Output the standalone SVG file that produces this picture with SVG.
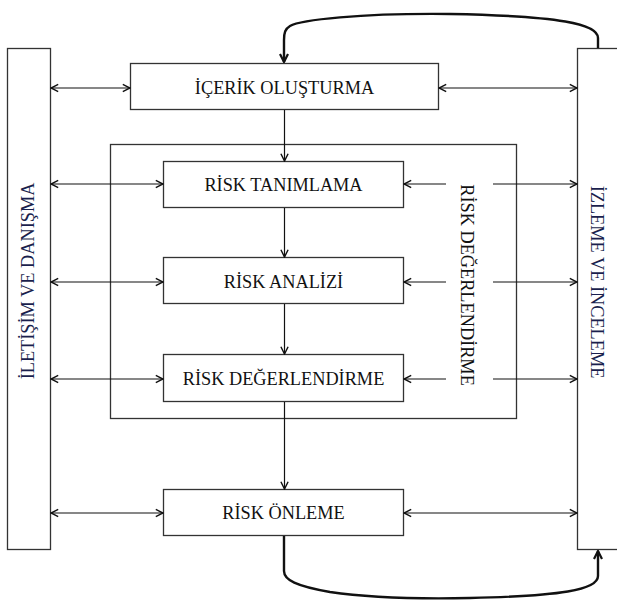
<svg xmlns="http://www.w3.org/2000/svg" width="617" height="603" viewBox="0 0 617 603">
<defs>
<marker id="ah" viewBox="0 0 10 10" refX="9" refY="5" markerWidth="9" markerHeight="10" markerUnits="userSpaceOnUse" orient="auto-start-reverse">
<path d="M1,1 L9,5 L1,9" fill="none" stroke="#111" stroke-width="1.6"/>
</marker>
<marker id="ahb" viewBox="0 0 10 10" refX="9" refY="5" markerWidth="10" markerHeight="11" markerUnits="userSpaceOnUse" orient="auto">
<path d="M1,1 L9,5 L1,9" fill="none" stroke="#111" stroke-width="2.2"/>
</marker>
</defs>
<style>
.box{fill:#fff;stroke:#333;stroke-width:1.3}
.frame{fill:none;stroke:#333;stroke-width:1.3}
text{font-family:'Liberation Serif','Times New Roman',serif;font-size:18.3px;text-anchor:middle;dominant-baseline:central}
.t{fill:#111}
.vt{fill:#1a1f4d}
.c{fill:none;stroke:#111;stroke-width:1.2}
.cb{fill:none;stroke:#111;stroke-width:2.4}
</style>
<rect width="617" height="603" fill="#fff"/>
<g id="frame-degerlendirme">
<rect class="frame" x="110.5" y="144.5" width="406" height="274"/>
<text class="t" transform="translate(467,285) rotate(90)">RİSK DEĞERLENDİRME</text>
</g>
<g id="iletisim">
<rect class="box" x="7.5" y="48.5" width="43" height="501"/>
<text class="vt" transform="translate(28,281) rotate(-90)">İLETİŞİM VE DANIŞMA</text>
</g>
<g id="izleme">
<rect class="box" x="577.5" y="48.5" width="45" height="501"/>
<text class="vt" transform="translate(597,282) rotate(90)">İZLEME VE İNCELEME</text>
</g>
<g id="icerik">
<rect class="box" x="130.5" y="63.5" width="308" height="46"/>
<text class="t" x="284.5" y="88">İÇERİK OLUŞTURMA</text>
</g>
<g id="tanimlama">
<rect class="box" x="163.5" y="161.5" width="240" height="46"/>
<text class="t" x="283.5" y="185">RİSK TANIMLAMA</text>
</g>
<g id="analiz">
<rect class="box" x="163.5" y="257.5" width="240" height="46"/>
<text class="t" x="283.5" y="282">RİSK ANALİZİ</text>
</g>
<g id="degerlendirme">
<rect class="box" x="163.5" y="354.5" width="240" height="47"/>
<text class="t" x="283.5" y="379">RİSK DEĞERLENDİRME</text>
</g>
<g id="onleme">
<rect class="box" x="163.5" y="489.5" width="240" height="46"/>
<text class="t" x="283.5" y="513">RİSK ÖNLEME</text>
</g>
<g id="connectors">
<line class="c" x1="284.5" y1="110" x2="284.5" y2="161" marker-end="url(#ah)"/>
<line class="c" x1="284.5" y1="208" x2="284.5" y2="257" marker-end="url(#ah)"/>
<line class="c" x1="284.5" y1="304" x2="284.5" y2="354" marker-end="url(#ah)"/>
<line class="c" x1="284.5" y1="402" x2="284.5" y2="489" marker-end="url(#ah)"/>
<line class="c" x1="51" y1="88" x2="130" y2="88" marker-start="url(#ah)" marker-end="url(#ah)"/>
<line class="c" x1="51" y1="184" x2="163" y2="184" marker-start="url(#ah)" marker-end="url(#ah)"/>
<line class="c" x1="51" y1="282" x2="163" y2="282" marker-start="url(#ah)" marker-end="url(#ah)"/>
<line class="c" x1="51" y1="379" x2="163" y2="379" marker-start="url(#ah)" marker-end="url(#ah)"/>
<line class="c" x1="51" y1="513" x2="163" y2="513" marker-start="url(#ah)" marker-end="url(#ah)"/>
<line class="c" x1="439" y1="88" x2="577" y2="88" marker-start="url(#ah)" marker-end="url(#ah)"/>
<line class="c" x1="446" y1="184" x2="404" y2="184" marker-end="url(#ah)"/>
<line class="c" x1="493" y1="184" x2="577" y2="184" marker-end="url(#ah)"/>
<line class="c" x1="446" y1="282" x2="404" y2="282" marker-end="url(#ah)"/>
<line class="c" x1="493" y1="282" x2="577" y2="282" marker-end="url(#ah)"/>
<line class="c" x1="446" y1="379" x2="404" y2="379" marker-end="url(#ah)"/>
<line class="c" x1="493" y1="379" x2="577" y2="379" marker-end="url(#ah)"/>
<line class="c" x1="404" y1="513" x2="577" y2="513" marker-start="url(#ah)" marker-end="url(#ah)"/>
<path class="cb" d="M598,48 L598,38 C598,24 560,16 450,14 C360,13 300,20 290,26 C285,29 284,33 284,40 L284,62" marker-end="url(#ahb)"/>
<path class="cb" d="M284,536 L284,571 C284,580 296,586 330,592 C370,598 420,599 470,598 C560,596 598,590 598,576 L598,551" marker-end="url(#ahb)"/>
</g>
</svg>
